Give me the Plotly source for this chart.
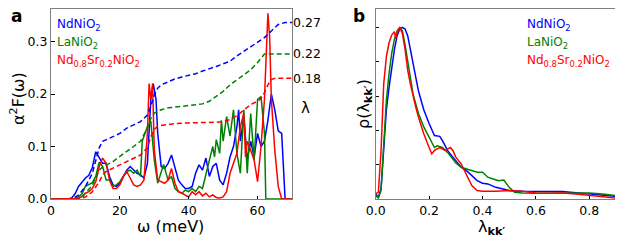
import plotly.graph_objects as go

# ---------------- Panel a: Eliashberg function alpha^2F(omega) ----------------
w_nd = [0, 5, 6, 7, 8, 9, 10, 11, 12, 13, 14, 15, 16, 17, 18, 19, 20, 21, 22, 23, 24, 25, 26, 27, 28, 29, 29.7, 30.5, 31,
        32, 33, 34, 35, 36, 37, 38, 39, 40, 41, 42, 43, 44, 45, 46, 47, 48, 49, 50, 51, 52, 53, 54, 54.5, 55, 56, 57,
        58, 59, 60, 61, 62, 63, 64, 65, 66, 67, 67.5, 68, 70]
a2f_nd = [0, 0, 0.002, 0.01, 0.024, 0.032, 0.04, 0.045, 0.06, 0.09, 0.078, 0.068, 0.068, 0.043, 0.027, 0.024, 0.03,
          0.043, 0.055, 0.062, 0.055, 0.049, 0.046, 0.04, 0.068, 0.19, 0.22, 0.19, 0.125, 0.062, 0.058, 0.068, 0.084,
          0.062, 0.036, 0.027, 0.02, 0.02, 0.024, 0.049, 0.065, 0.055, 0.078, 0.043, 0.062, 0.068, 0.036, 0.027, 0.049,
          0.08, 0.1, 0.138, 0.17, 0.11, 0.157, 0.074, 0.11, 0.08, 0.125, 0.1, 0.11, 0.15, 0.2, 0.17, 0.13, 0.125, 0.06,
          0, 0]

w_la = [0, 6, 7, 8, 9, 10, 11, 12, 13, 14, 15, 16, 17, 18, 19, 20, 21, 22, 23, 24, 25, 26, 26.5, 27, 28, 29, 30, 31,
        32, 32.7, 34, 35, 36, 37, 38, 39, 40, 41, 42, 43, 44, 45, 46, 47, 47.5, 48, 49, 49.5, 50, 51, 52, 53, 54, 55,
        56, 57, 58, 59, 60, 61, 62, 62.4, 70]
a2f_la = [0, 0, 0.001, 0.004, 0.01, 0.024, 0.028, 0.031, 0.043, 0.07, 0.062, 0.036, 0.036, 0.024, 0.027, 0.033, 0.043,
          0.052, 0.055, 0.049, 0.055, 0.043, 0.11, 0.12, 0.138, 0.148, 0.074, 0.03, 0.049, 0.066, 0.036, 0.043, 0.02,
          0.014, 0.011, 0.017, 0.014, 0.02, 0.014, 0.024, 0.02, 0.049, 0.074, 0.1, 0.08, 0.113, 0.087, 0.15, 0.11, 0.157,
          0.12, 0.17, 0.087, 0.049, 0.17, 0.049, 0.163, 0.074, 0.19, 0.195, 0.125, 0, 0]

w_sr = [0, 7, 8, 9, 10, 11, 12, 13, 14, 15, 16, 17, 18, 19, 20, 21, 22, 23, 24, 25, 26, 27, 28, 28.5, 29, 29.5, 30, 31,
        32, 33, 34, 35, 36, 37, 38, 39, 40, 41, 42, 43, 44, 45, 46, 47, 48, 49, 50, 51, 52, 53, 54, 55, 56, 56.5, 57,
        58, 59, 60, 61, 62, 63, 63.5, 64, 65, 66, 67, 70]
a2f_sr = [0, 0, 0.001, 0.005, 0.011, 0.014, 0.02, 0.033, 0.062, 0.078, 0.068, 0.036, 0.02, 0.02, 0.027, 0.043, 0.052,
          0.04, 0.027, 0.024, 0.027, 0.036, 0.125, 0.22, 0.19, 0.22, 0.093, 0.036, 0.033, 0.03, 0.036, 0.058, 0.03,
          0.014, 0.011, 0.008, 0.004, 0.014, 0.008, 0.014, 0.006, 0.011, 0.004, 0.008, 0.003, 0.002, 0.004, 0.014,
          0.049, 0.068, 0.087, 0.138, 0.163, 0.08, 0.11, 0.093, 0.074, 0.033, 0.1, 0.19, 0.354, 0.31, 0.19, 0.093,
          0.024, 0, 0]

# cumulative lambda(omega) (right scale)
wl_nd = [0, 6, 8, 10, 12, 13, 14, 15, 16, 18, 20, 22, 24, 26, 28, 29, 30, 31, 32, 34, 36, 38, 40, 42, 44, 46, 48, 50,
         52, 54, 56, 58, 60, 62, 64, 66, 68, 70]
lam_nd = [0, 0, 0.006, 0.019, 0.039, 0.06, 0.078, 0.088, 0.09, 0.095, 0.1, 0.108, 0.113, 0.118, 0.128, 0.141, 0.159,
          0.169, 0.174, 0.179, 0.183, 0.186, 0.188, 0.191, 0.195, 0.198, 0.202, 0.206, 0.21, 0.218, 0.225, 0.233,
          0.239, 0.246, 0.256, 0.266, 0.269, 0.269]
wl_la = [0, 7, 9, 10, 12, 14, 15, 16, 18, 20, 22, 24, 26, 27, 28, 29, 30, 32, 34, 36, 38, 40, 42, 44, 46, 48, 50, 52,
         54, 56, 58, 60, 61, 62, 63, 70]
lam_la = [0, 0, 0.002, 0.009, 0.021, 0.044, 0.049, 0.052, 0.057, 0.065, 0.072, 0.08, 0.088, 0.098, 0.108, 0.123,
          0.131, 0.136, 0.139, 0.14, 0.141, 0.142, 0.143, 0.145, 0.149, 0.156, 0.164, 0.174, 0.182, 0.19, 0.197,
          0.208, 0.215, 0.221, 0.221, 0.221]
wl_sr = [0, 8, 10, 12, 14, 15, 16, 18, 20, 22, 24, 26, 28, 29, 30, 31, 32, 34, 36, 40, 44, 48, 50, 52, 54, 56, 58, 60,
         61, 62, 63, 64, 65, 66, 70]
lam_sr = [0, 0, 0.003, 0.011, 0.026, 0.037, 0.042, 0.047, 0.052, 0.057, 0.062, 0.067, 0.078, 0.095, 0.106, 0.111,
          0.112, 0.114, 0.115, 0.116, 0.116, 0.117, 0.118, 0.121, 0.127, 0.136, 0.144, 0.149, 0.153, 0.162, 0.174,
          0.182, 0.184, 0.184, 0.184]
lam_labels = ["0.27", "0.22", "0.18"]

# ---------------- Panel b: distribution of lambda_kk' ----------------
xb_nd = [0.0, 0.01, 0.02, 0.03, 0.04, 0.05, 0.06, 0.07, 0.08, 0.09, 0.10, 0.11, 0.12, 0.13, 0.14, 0.15, 0.16, 0.17,
         0.18, 0.20, 0.22, 0.24, 0.25, 0.27, 0.30, 0.32, 0.34, 0.36, 0.38, 0.40, 0.42, 0.45, 0.50, 0.55, 0.60, 0.65,
         0.70, 0.75, 0.80, 0.85, 0.90]
rho_nd = [0.03, 0.01, 0.06, 0.28, 0.52, 0.65, 0.77, 0.87, 0.95, 0.99, 1.0, 0.99, 0.95, 0.87, 0.77, 0.69, 0.63, 0.575,
          0.52, 0.44, 0.37, 0.365, 0.34, 0.28, 0.22, 0.185, 0.165, 0.136, 0.107, 0.092, 0.088, 0.068, 0.049, 0.045,
          0.045, 0.045, 0.043, 0.037, 0.029, 0.023, 0.015]
xb_la = [0.0, 0.01, 0.02, 0.03, 0.04, 0.05, 0.06, 0.07, 0.08, 0.09, 0.10, 0.11, 0.12, 0.13, 0.14, 0.15, 0.16, 0.18,
         0.20, 0.22, 0.23, 0.25, 0.27, 0.30, 0.32, 0.34, 0.36, 0.38, 0.40, 0.42, 0.44, 0.46, 0.48, 0.50, 0.52, 0.55,
         0.60, 0.65, 0.70, 0.75, 0.80, 0.85, 0.90]
rho_la = [0.02, 0.006, 0.05, 0.34, 0.575, 0.73, 0.85, 0.93, 0.98, 1.0, 0.98, 0.9, 0.81, 0.71, 0.61, 0.555, 0.5, 0.42,
          0.36, 0.30, 0.31, 0.30, 0.27, 0.21, 0.185, 0.175, 0.166, 0.156, 0.156, 0.127, 0.117, 0.107, 0.11, 0.068,
          0.039, 0.035, 0.033, 0.033, 0.035, 0.033, 0.035, 0.029, 0.02]
xb_sr = [0.0, 0.01, 0.02, 0.03, 0.04, 0.05, 0.06, 0.07, 0.075, 0.08, 0.09, 0.10, 0.11, 0.12, 0.13, 0.14, 0.15, 0.16,
         0.18, 0.20, 0.21, 0.22, 0.24, 0.26, 0.28, 0.29, 0.30, 0.32, 0.34, 0.36, 0.38, 0.40, 0.45, 0.50, 0.55, 0.60,
         0.65, 0.70, 0.75, 0.80, 0.85, 0.90]
rho_sr = [0.03, 0.04, 0.28, 0.67, 0.83, 0.91, 0.955, 0.975, 0.935, 0.965, 1.0, 0.965, 0.87, 0.75, 0.67, 0.595, 0.536,
          0.478, 0.38, 0.30, 0.263, 0.283, 0.30, 0.283, 0.30, 0.28, 0.244, 0.205, 0.146, 0.078, 0.049, 0.045, 0.045,
          0.049, 0.045, 0.035, 0.033, 0.035, 0.029, 0.02, 0.01, 0.005]

names = ["NdNiO<sub>2</sub>", "LaNiO<sub>2</sub>", "Nd<sub>0.8</sub>Sr<sub>0.2</sub>NiO<sub>2</sub>"]
colors = ["#0000ff", "#008000", "#ff0000"]

# the page body has an 8px margin, so the figure is laid out 8px smaller and
# all positions (given below in window pixels) are offset by that margin
OFF = 8
W, H = 623 - OFF, 240 - OFF
FONT = "DejaVu Sans"
fig = go.Figure()

for w, a, c in zip([w_nd, w_la, w_sr], [a2f_nd, a2f_la, a2f_sr], colors):
    fig.add_trace(go.Scatter(x=w, y=a, mode="lines", line=dict(color=c, width=1.5),
                             xaxis="x", yaxis="y", showlegend=False))
for w, l, c in zip([wl_nd, wl_la, wl_sr], [lam_nd, lam_la, lam_sr], colors):
    fig.add_trace(go.Scatter(x=w, y=l, mode="lines", line=dict(color=c, width=1.5, dash="5px,3px"),
                             xaxis="x", yaxis="y2", showlegend=False))
for x, r, c in zip([xb_nd, xb_la, xb_sr], [rho_nd, rho_la, rho_sr], colors):
    fig.add_trace(go.Scatter(x=x, y=r, mode="lines", line=dict(color=c, width=1.5),
                             xaxis="x3", yaxis="y3", showlegend=False))

def px(xp):
    return (xp - OFF) / W

def py(yp):
    return 1 - (yp - OFF) / H

TF = dict(family=FONT, size=12.5, color="#000000")
frame = dict(showline=True, linecolor="#808080", linewidth=1, mirror=True, showgrid=False, zeroline=False,
             ticks="inside", ticklen=3.5, tickcolor="#000000", automargin=False)

yA = [py(199), py(9)]
fig.update_layout(
    width=W, height=H, margin=dict(l=0, r=0, t=0, b=0, autoexpand=False),
    paper_bgcolor="white", plot_bgcolor="white", showlegend=False,
    xaxis=dict(domain=[px(51), px(292)], range=[0, 70], tickvals=[0, 20, 40, 60], anchor="y",
               tickfont=TF, **frame),
    yaxis=dict(domain=yA, range=[0, 0.362], tickvals=[0, 0.1, 0.2, 0.3], tickformat=".1f", anchor="x",
               tickfont=TF, **frame),
    yaxis2=dict(domain=yA, range=[0, 0.2896], overlaying="y", side="right", anchor="x",
                tickvals=[lam_nd[-1], lam_la[-1], lam_sr[-1]], ticktext=lam_labels, automargin=False,
                showgrid=False, zeroline=False, showline=False, ticks="",
                tickfont=TF),
    xaxis3=dict(domain=[px(375.7), px(616)], range=[0, 0.9], tickvals=[0, 0.2, 0.4, 0.6, 0.8], tickformat=".1f",
                anchor="y3", tickfont=TF, **frame),
    yaxis3=dict(domain=yA, range=[0, 1.107], tickvals=[0, 0.2, 0.4, 0.6, 0.8, 1.0], showticklabels=False,
                anchor="x3", **frame),
)

ann = []
def text(x, y, s, size=13, color="#000000", xanchor="center", angle=0, bold=False):
    ann.append(dict(x=px(x), y=py(y), xref="paper", yref="paper", text=("<b>%s</b>" % s) if bold else s,
                    showarrow=False, xanchor=xanchor, yanchor="middle", textangle=angle,
                    font=dict(family=FONT, size=size, color=color)))

# panel labels
text(16.5, 16, "a", size=17, bold=True)
text(359, 16, "b", size=17, bold=True)
# legends
for i, (n, c) in enumerate(zip(names, colors)):
    text(55, 25 + 17.8 * i, n, size=12, color=c, xanchor="left")
    text(525, 25 + 17.8 * i, n, size=12, color=c, xanchor="left")
# axis titles
text(18, 99, "α<sup>2</sup>F(ω)", size=16, angle=-90)
text(171, 226, "ω (meV)", size=16)
text(299, 108, "λ", size=15, xanchor="left")
text(365, 104, "ρ(λ<sub><b>kk′</b></sub>)", size=16, angle=-90)
text(491, 227, "λ<sub><b>kk′</b></sub>", size=16)
fig.update_layout(annotations=ann)

fig.write_html("out.html")
